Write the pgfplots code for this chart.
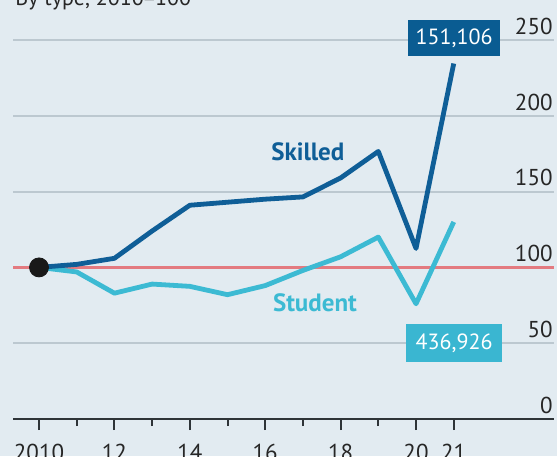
\documentclass[border=0pt]{standalone}
\usepackage{fontspec}
\setmainfont{PT Sans}
\usepackage{pgfplots}
\pgfplotsset{compat=1.18}
\definecolor{bg}{HTML}{E2EBF1}
\definecolor{gridc}{HTML}{BCC8D0}
\definecolor{axisgray}{HTML}{2E3438}
\definecolor{skilled}{HTML}{0F5E97}
\definecolor{student}{HTML}{3CBAD3}
\definecolor{skilledbox}{HTML}{0A5C92}
\definecolor{studentbox}{HTML}{3AB6D1}
\definecolor{refred}{HTML}{E37A80}
\begin{document}
\begin{tikzpicture}
\clip (0,0) rectangle (278.5pt,228pt);
\fill[bg] (0,0) rectangle (278.5pt,228pt);
\node[anchor=base west, inner sep=0pt, font=\fontsize{11}{13}\selectfont, text=black!85] at (7.5pt,225pt) {By type, 2010=100};
\begin{axis}[
  at={(6.5pt,18.5pt)}, anchor=south west,
  scale only axis, width=270.5pt, height=189.5pt,
  xmin=2009.31, xmax=2023.66, ymin=0, ymax=250,
  clip=false,
  axis x line*=bottom, axis y line*=right,
  y axis line style={draw=none},
  x axis line style={axisgray, line width=1pt, -},
  xtick={2010,2012,2014,2016,2018,2020,2021},
  xticklabels={2010,12,14,16,18,20,21},
  minor xtick={2011,2013,2015,2017,2019},
  tick align=outside,
  major tick length=5.5pt, minor tick length=3.5pt,
  xtick style={line width=1pt, draw=axisgray},
  minor tick style={line width=1pt, draw=axisgray},
  ytick={0,50,100,150,200,250},
  ytick style={draw=none},
  ymajorgrids, major grid style={gridc, line width=0.9pt},
  /pgf/number format/assume math mode=true,
  tick label style={font=\fontsize{11.5}{13}\selectfont, text=black!85},
  yticklabel style={anchor=south east, inner sep=0pt, yshift=2.5pt, xshift=-6pt},
  xticklabel style={anchor=north, inner sep=0pt, yshift=-7pt},
]
\addplot[refred, line width=1.3pt, forget plot] coordinates {(2009.31,100) (2023.66,100)};
\addplot[student, line width=2.4pt, line join=round] coordinates {
(2010,100) (2011,97) (2012,83) (2013,89) (2014,87.5) (2015,82) (2016,88) (2017,98) (2018,107) (2019,120) (2020,76) (2021,130)};
\addplot[skilled, line width=2.4pt, line join=round] coordinates {
(2010,100) (2011,102) (2012,106) (2013,124) (2014,141) (2015,143) (2016,145) (2017,146.5) (2018,159) (2019,176.5) (2020,112.5) (2021,234.5)};
\addplot[only marks, mark=*, mark size=4.75pt, fill=black!90, draw=black!90] coordinates {(2010,100)};
\node[font=\bfseries\fontsize{12.5}{14}\selectfont, text=skilled] at (axis cs:2017.13,176) {Skilled};
\node[font=\bfseries\fontsize{12.5}{14}\selectfont, text=student] at (axis cs:2017.32,76.5) {Student};
\node[fill=skilledbox, text=white, minimum width=46pt, minimum height=18pt, inner sep=0pt, font=\fontsize{11}{13}\selectfont] at (axis cs:2021.01,251.3) {151,106};
\node[fill=studentbox, text=white, minimum width=48pt, minimum height=19pt, inner sep=0pt, font=\fontsize{11}{13}\selectfont] at (axis cs:2021.01,50.1) {436,926};
\end{axis}
\end{tikzpicture}
\end{document}
